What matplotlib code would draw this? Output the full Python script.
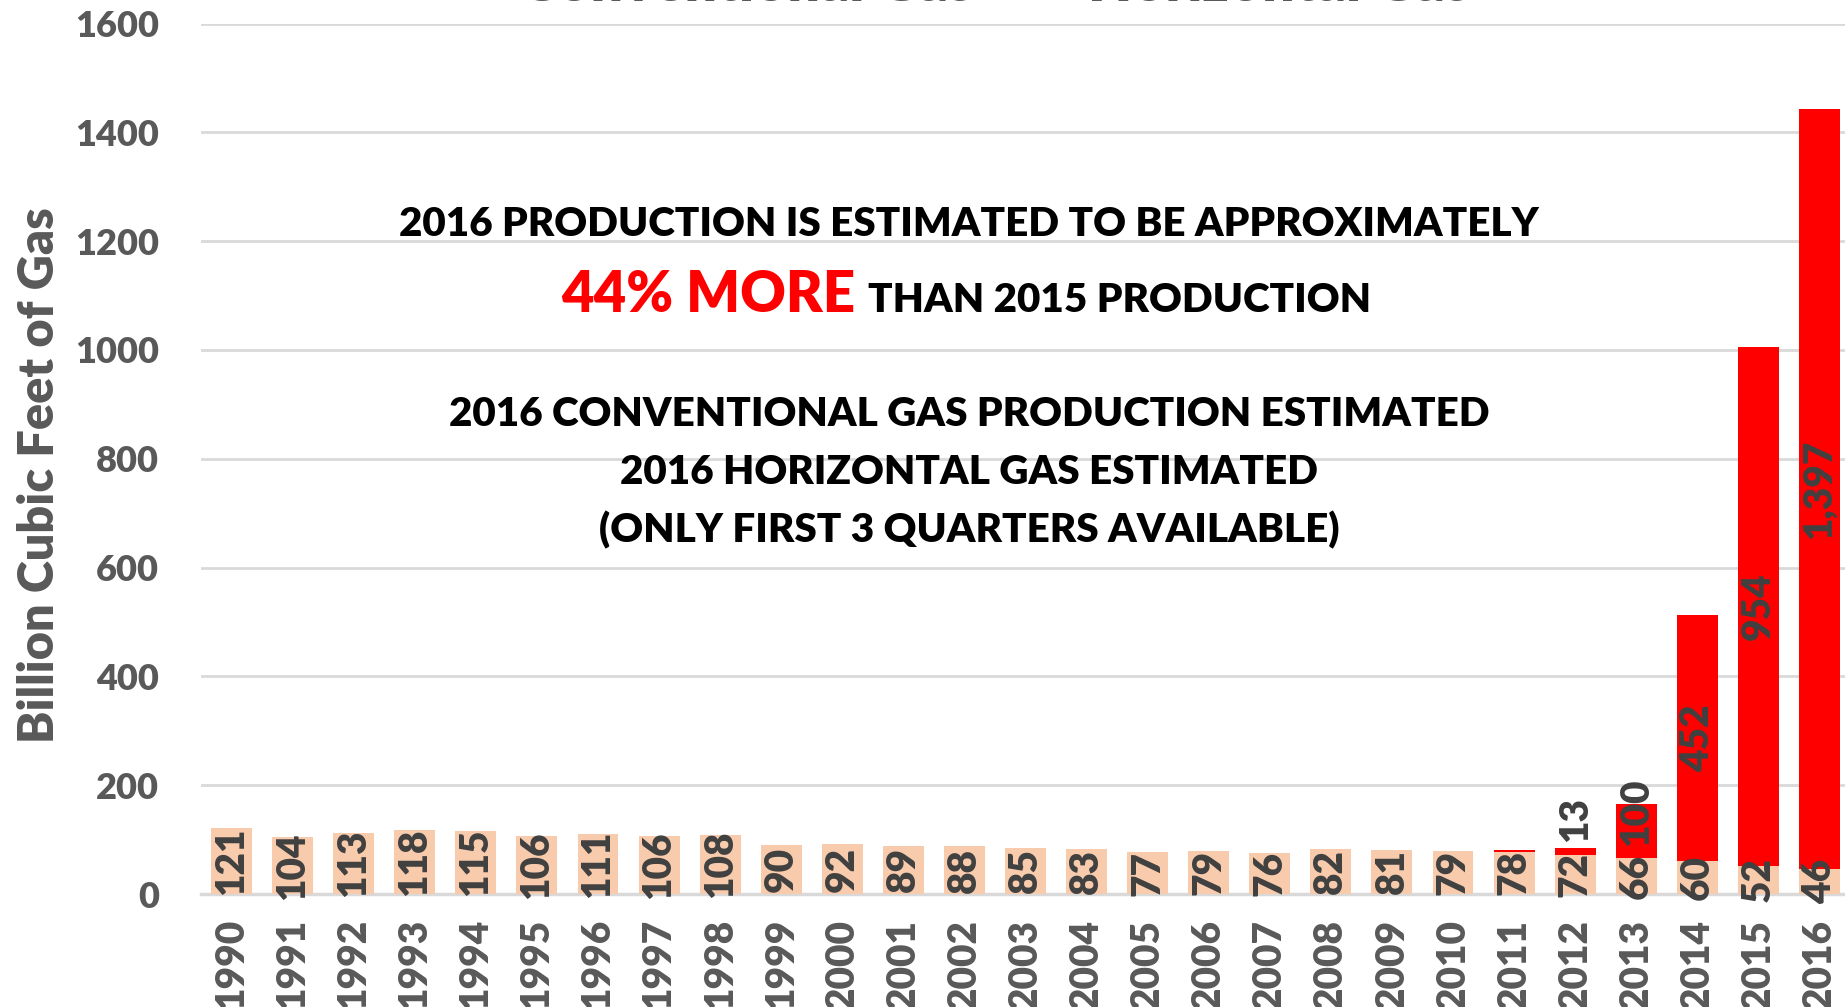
import matplotlib
matplotlib.use("Agg")
import matplotlib.pyplot as plt
import numpy as np

years = [str(y) for y in range(1990, 2017)]
conventional = [121, 104, 113, 118, 115, 106, 111, 106, 108, 90, 92, 89, 88, 85, 83,
                77, 79, 76, 82, 81, 79, 78, 72, 66, 60, 52, 46]
horizontal = [0, 0, 0, 0, 0, 0, 0, 0, 0, 0, 0, 0, 0, 0, 0,
              0, 0, 0, 0, 0, 0, 2, 13, 100, 452, 954, 1397]
yticks = [0, 200, 400, 600, 800, 1000, 1200, 1400, 1600]
series_names = ["Conventional Gas", "Horizontal Gas"]

FONT = ["Lato", "DejaVu Sans"]
WT = 'heavy'
plt.rcParams['font.family'] = FONT
plt.rcParams['font.weight'] = WT

W, H = 1845, 1007
fig = plt.figure(figsize=(W / 100, H / 100), dpi=100)
left, right, bottom, top = 201, 1850, 113, 983.5
ax = fig.add_axes([left / W, bottom / H, (right - left) / W, (top - bottom) / H])

x = np.arange(len(years))
c_conv = "#F8CBAD"
c_hor = "#FF0000"
ax.bar(x, conventional, width=0.67, color=c_conv, zorder=2)
ax.bar(x, horizontal, width=0.67, bottom=conventional, color=c_hor, zorder=2)

ax.set_xlim(-0.5, len(years) - 0.5)
ax.set_ylim(0, 1600)
ax.set_yticks(yticks)
ax.set_yticklabels([str(v) for v in yticks])
ax.set_xticks(x)
ax.set_xticklabels(years, rotation=90)
ax.tick_params(axis='y', length=0, pad=30, labelsize=26, labelcolor="#595959")
ax.tick_params(axis='x', length=0, pad=18, labelsize=28, labelcolor="#595959")
for lab in ax.get_xticklabels() + ax.get_yticklabels():
    lab.set_fontweight(WT)
ax.grid(axis='y', color="#D9D9D9", linewidth=2, zorder=0)
ax.set_axisbelow(True)
for s in ["top", "right", "left"]:
    ax.spines[s].set_visible(False)
ax.spines["bottom"].set_color("#D9D9D9")
ax.spines["bottom"].set_linewidth(2.5)
ax.spines["bottom"].set_zorder(1)

ax.set_ylabel("Billion Cubic Feet of Gas", fontsize=35, color="#595959",
              fontweight=WT)
ax.yaxis.set_label_coords(-0.0843, 0.481)

lab_col = "#404040"
dfs = 28
for i in x:
    cv = conventional[i]
    ax.text(i, cv / 2, f"{cv:,}", rotation=90, ha='center', va='center',
            fontsize=dfs, color=lab_col, fontweight=WT, zorder=3)
    hv = horizontal[i]
    if hv >= 5:
        if hv >= 300:
            ax.text(i, cv + hv / 2, f"{hv:,}", rotation=90, ha='center', va='center',
                    fontsize=dfs, color=lab_col, fontweight=WT, zorder=3)
        else:
            ax.annotate(f"{hv:,}", xy=(i, cv), xytext=(0, 9), textcoords='offset points',
                        rotation=90, ha='center', va='bottom', fontsize=dfs,
                        color=lab_col, fontweight=WT, zorder=3)

# Legend fragments (cropped at the top of the image)
fig.text(747 / W, (H - 1) / H, series_names[0], ha='center', va='baseline',
         fontsize=41, color="#595959", fontweight=WT)
fig.text(1279 / W, (H - 1) / H, series_names[1], ha='center', va='baseline',
         fontsize=41, color="#595959", fontweight=WT)

# Annotations
def ftxt(px, py, s, **kw):
    fig.text(px / W, 1 - py / H, s, **kw)

fs = 29.1
ftxt(969, 224, "2016 PRODUCTION IS ESTIMATED TO BE APPROXIMATELY", ha='center', va='center',
     fontsize=fs, color='black', fontweight=WT)
ftxt(855, 312, "44% MORE", ha='right', va='baseline', fontsize=40.4, color='#FF0000',
     fontweight=WT)
ftxt(868, 312, "THAN 2015 PRODUCTION", ha='left', va='baseline', fontsize=fs,
     color='black', fontweight=WT)
ftxt(969, 414, "2016 CONVENTIONAL GAS PRODUCTION ESTIMATED", ha='center', va='center',
     fontsize=fs, color='black', fontweight=WT)
ftxt(969, 473, "2016 HORIZONTAL GAS ESTIMATED", ha='center', va='center',
     fontsize=fs, color='black', fontweight=WT)
ftxt(969, 530, "(ONLY FIRST 3 QUARTERS AVAILABLE)", ha='center', va='center',
     fontsize=fs, color='black', fontweight=WT)

fig.savefig("out.png", dpi=100)
